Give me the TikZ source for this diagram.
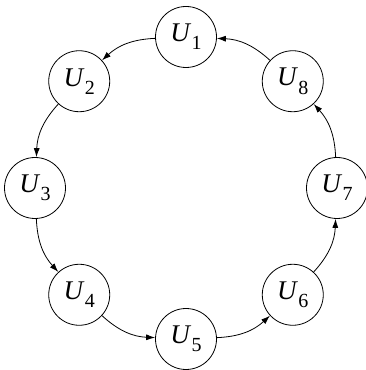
\documentclass[tikz,border=0pt]{standalone}
\usepackage{fontspec}
\setmainfont{Liberation Serif}
\usetikzlibrary{arrows.meta,calc}
% italic U with an upright numeric subscript
\newcommand{\usym}[1]{\textit{U}\kern0.2pt\raisebox{-0.3em}{\fontsize{20}{20}\selectfont #1}}
\begin{document}
\begin{tikzpicture}[x=1pt,y=1pt,
  agent/.style={draw, circle, line width=0.8pt, minimum size=61pt, inner sep=0pt,
    font=\fontsize{27}{27}\selectfont},
  link/.style={-{Latex[length=9pt,width=6pt]}, line width=0.8pt, bend right=20}]
\useasboundingbox (0,0) rectangle (366,370);
\coordinate (ctr) at (186,182);
\foreach \i in {1,...,8} {
  \node[agent] (U\i) at ($(ctr)+({90+45*(\i-1)}:151)$) {\usym{\i}};
}
\foreach \i/\j in {1/2,2/3,3/4,4/5,5/6,6/7,7/8,8/1} {
  \draw[link] (U\i) to (U\j);
}
\end{tikzpicture}
\end{document}
